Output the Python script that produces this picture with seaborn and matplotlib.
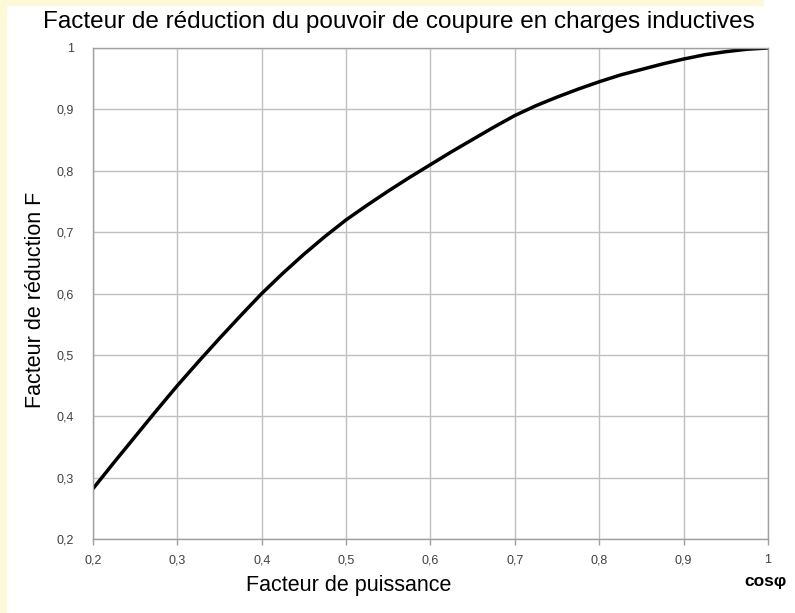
import numpy as np
import pandas as pd
import seaborn as sns
import matplotlib.pyplot as plt
from matplotlib.patches import Rectangle

# valeurs
cos_phi = [0.200, 0.225, 0.250, 0.275, 0.300, 0.325, 0.350, 0.375, 0.400, 0.425, 0.450,
           0.475, 0.500, 0.525, 0.550, 0.575, 0.600, 0.625, 0.650, 0.675, 0.700, 0.725,
           0.750, 0.775, 0.800, 0.825, 0.850, 0.875, 0.900, 0.925, 0.950, 0.975, 1.000]
facteur_F = [0.282, 0.325, 0.367, 0.409, 0.450, 0.489, 0.527, 0.564, 0.600, 0.633, 0.664,
             0.693, 0.720, 0.744, 0.767, 0.789, 0.810, 0.831, 0.851, 0.871, 0.890, 0.906,
             0.920, 0.933, 0.945, 0.956, 0.965, 0.974, 0.982, 0.989, 0.994, 0.998, 1.000]
x_ticks = [0.2, 0.3, 0.4, 0.5, 0.6, 0.7, 0.8, 0.9, 1.0]
x_labels = ['0,2', '0,3', '0,4', '0,5', '0,6', '0,7', '0,8', '0,9', '1']
y_ticks = [0.2, 0.3, 0.4, 0.5, 0.6, 0.7, 0.8, 0.9, 1.0]
y_labels = ['0,2', '0,3', '0,4', '0,5', '0,6', '0,7', '0,8', '0,9', '1']

df = pd.DataFrame({'cos': cos_phi, 'F': facteur_F})

sns.set_style('white')
plt.rcParams['font.family'] = ['Liberation Sans', 'DejaVu Sans']

fig = plt.figure(figsize=(7.95, 6.13), dpi=100)
fig.patch.set_facecolor('white')
# liseré jaune pâle à gauche et en haut
fig.patches.append(Rectangle((0, 0), 0.008, 1, transform=fig.transFigure, color='#fdf8d8', zorder=0))
fig.patches.append(Rectangle((0, 0.992), 0.96, 0.008, transform=fig.transFigure, color='#fdf8d8', zorder=0))

ax = fig.add_axes([0.117, 0.1207, 0.849, 0.801])
sns.lineplot(data=df, x='cos', y='F', color='black', linewidth=2.5, ax=ax)

ax.set_xlim(0.2, 1.0)
ax.set_ylim(0.2, 1.0)
ax.set_xticks(x_ticks)
ax.set_xticklabels(x_labels, fontsize=9, color='#404040')
ax.set_yticks(y_ticks)
ax.set_yticklabels(y_labels, fontsize=9, color='#404040')
ax.grid(True, color='#c0c0c0', linewidth=1)
for s in ax.spines.values():
    s.set_color('#a0a0a0')
    s.set_linewidth(1)
ax.tick_params(axis='x', bottom=True, length=4, width=1, color='#a0a0a0',
               direction='out', pad=7)
ax.tick_params(axis='y', left=False, length=0, pad=14)
ax.set_xlabel('')
ax.set_ylabel('')

fig.text(0.502, 0.964, 'Facteur de réduction du pouvoir de coupure en charges inductives',
         ha='center', va='center', fontsize=17.5, color='black')
fig.text(0.045, 0.511, 'Facteur de réduction F', rotation=90, ha='center', va='center',
         fontsize=15.5, color='black')
fig.text(0.439, 0.045, 'Facteur de puissance', ha='center', va='center', fontsize=15.5, color='black')
fig.text(0.963, 0.051, 'cosφ', ha='center', va='center', fontsize=12.5, fontweight='bold', color='black')

fig.savefig('out.png', dpi=100)
